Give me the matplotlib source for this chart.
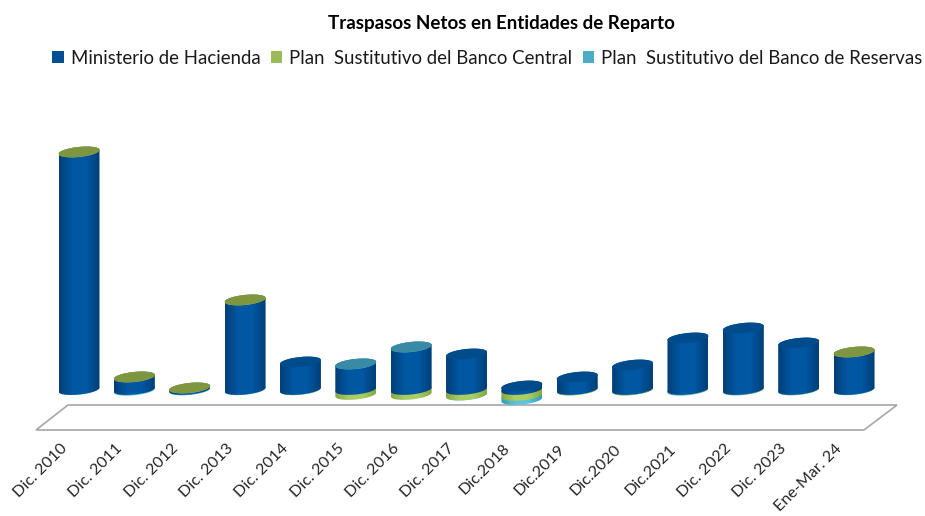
"""
Traspasos netos en entidades de reparto : cylindres empilés façon Excel 3D.
Pas d'axe de valeurs sur l'original, valeurs lues à l'oeil (unités arbitraires).
"""

import numpy as np
import matplotlib
matplotlib.use('Agg')
import matplotlib.pyplot as plt
from matplotlib.colors import LinearSegmentedColormap
from matplotlib.patches import PathPatch, Polygon, Rectangle
from matplotlib.path import Path
from matplotlib.transforms import ScaledTranslation

categories = ['Dic. 2010', 'Dic. 2011', 'Dic. 2012', 'Dic. 2013', 'Dic. 2014',
              'Dic. 2015', 'Dic. 2016', 'Dic. 2017', 'Dic.2018', 'Dic.2019',
              'Dic.2020', 'Dic.2021', 'Dic. 2022', 'Dic. 2023', 'Ene-Mar. 24']

hacienda = [23.75, 1.25, 0.15, 8.95, 2.75, 2.55, 4.25, 3.55, 0.35, 1.25, 2.45, 5.15, 6.15, 4.65, 3.75]
banco_central = [0.01, 0.01, 0.01, 0.01, -0.02, -0.5, -0.5, -0.55, -0.6, -0.05, -0.05, -0.02, -0.02, -0.02, 0.01]
banco_reservas = [-0.02, -0.08, -0.05, -0.03, -0.01, 0.01, 0.01, -0.01, -0.4, -0.01, -0.01, -0.06, -0.04, -0.03, -0.03]

series_names = ['Ministerio de Hacienda', 'Plan  Sustitutivo del Banco Central',
                'Plan  Sustitutivo del Banco de Reservas']

# couleurs : (bord du cylindre, centre, couvercle)
styles = [('#003f77', '#0058a3', '#004b8c'),
          ('#86a845', '#aacd62', '#7f9640'),
          ('#2f9dbd', '#5cc3dd', '#3a8aa5')]
legend_colors = ['#004f95', '#9bbb59', '#4bacc6']

plt.rcParams['font.family'] = ['Lato', 'DejaVu Sans']

W, H = 925, 516
AX_TOP, AX_BOTTOM = 130, 432
HALF_W = 0.37      # demi-largeur d'un cylindre, en catégories
ELL_B = 0.5        # petit axe de l'ellipse
ELL_TILT = 0.2     # inclinaison de l'ellipse (monte vers la droite)

fig = plt.figure(figsize=(W / 100, H / 100), dpi=100)
ax = fig.add_axes([0, 1 - AX_BOTTOM / H, 1, (AX_BOTTOM - AX_TOP) / H])


def px_x(px):
    return (px - 79) / 55.36


def arc(xc, yc, t):
    return np.column_stack([xc + HALF_W * np.cos(t),
                            yc + ELL_B * np.sin(t) + ELL_TILT * np.cos(t)])


def draw_segment(xc, y0, y1, style):
    """Corps du cylindre entre y0 et y1 avec dégradé horizontal."""
    front = arc(xc, y0, np.linspace(np.pi, 2 * np.pi, 40))
    back = arc(xc, y1, np.linspace(0, np.pi, 40))
    path = Path(np.vstack([front, back, front[:1]]))
    cmap = LinearSegmentedColormap.from_list('cyl', [style[0], style[1], style[1], style[0]])
    img = ax.imshow(np.linspace(0, 1, 64).reshape(1, -1), cmap=cmap, aspect='auto',
                    extent=(xc - HALF_W, xc + HALF_W, y0 - 1, y1 + 1),
                    interpolation='bilinear', zorder=3)
    patch = PathPatch(path, transform=ax.transData, fc='none', ec='none')
    ax.add_patch(patch)
    img.set_clip_path(patch)


def draw_cap(xc, y, color):
    t = np.linspace(0, 2 * np.pi, 80)
    ax.add_patch(Polygon(arc(xc, y, t), closed=True, fc=color, ec='none', zorder=3))


# Sol du graphique
floor_x = [px_x(36), px_x(68), px_x(897), px_x(864)]
floor_y = [-4.05, -1.55, -1.55, -4.05]
ax.add_patch(Polygon(np.column_stack([floor_x, floor_y]), closed=True,
                     fc='white', ec='#a6a6a6', lw=1.2, zorder=1))

for i in range(len(categories)):
    vals = [hacienda[i], banco_central[i], banco_reservas[i]]

    # négatifs : du plus bas vers zéro
    low = sum(v for v in vals if v < 0)
    for k in [2, 1, 0]:
        if vals[k] < 0:
            draw_segment(i, low, low - vals[k], styles[k])
            low -= vals[k]

    # positifs : empilés depuis zéro, le dernier donne la couleur du couvercle
    top = 0
    cap = styles[0][2]
    for k in [0, 1, 2]:
        if vals[k] > 0:
            draw_segment(i, top, top + vals[k], styles[k])
            top += vals[k]
            cap = styles[k][2]
    draw_cap(i, top, cap)

ax.set_xlim(px_x(0), px_x(W))
ax.set_ylim((389.5 - AX_BOTTOM) / 10, (389.5 - AX_TOP) / 10)
ax.set_yticks([])
ax.set_xticks(range(len(categories)))
ax.set_xticklabels(categories, rotation=45, ha='right', va='top',
                   rotation_mode='anchor', fontsize=11.6, color='#262626')
ax.tick_params(axis='x', length=0, pad=7)
offset = ScaledTranslation(-19 / 100, 0, fig.dpi_scale_trans)
for label in ax.get_xticklabels():
    label.set_transform(label.get_transform() + offset)
for spine in ax.spines.values():
    spine.set_visible(False)

fig.text(501 / W, 1 - 24 / H, 'Traspasos Netos en Entidades de Reparto',
         ha='center', va='center', fontsize=13.5, fontweight='bold', color='black')

handles = [Rectangle((0, 0), 1, 1, fc=c, ec='none') for c in legend_colors]
fig.legend(handles, series_names, ncol=3, frameon=False, fontsize=13.45,
           loc='center', bbox_to_anchor=(487.5 / W, 1 - 58 / H),
           handlelength=0.6, handleheight=0.6, handletextpad=0.37,
           columnspacing=0.58, labelcolor='#1a1a1a')

fig.savefig('out.png', dpi=100, facecolor='white')
